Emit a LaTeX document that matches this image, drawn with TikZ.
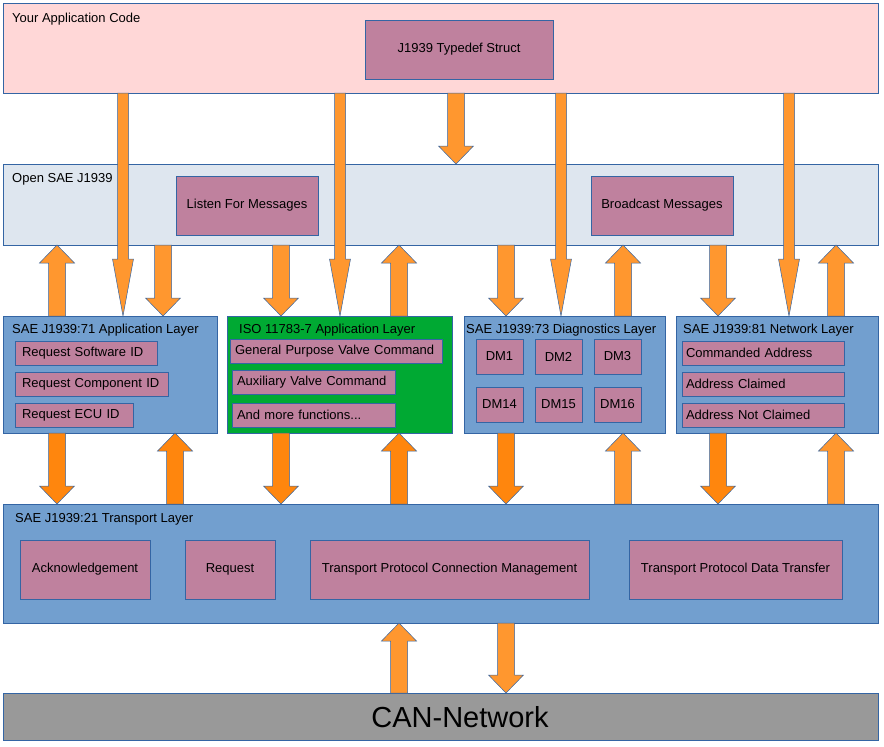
\documentclass[tikz,border=0pt]{standalone}
\usepackage{fontspec}
\setmainfont{Liberation Sans}
\usetikzlibrary{calc}
\definecolor{Edge}{HTML}{3465A4}
\definecolor{Blush}{HTML}{FFD7D7}
\definecolor{Mist}{HTML}{DEE6EF}
\definecolor{Steel}{HTML}{729FCF}
\definecolor{Leaf}{HTML}{00A933}
\definecolor{Mauve}{HTML}{BF819E}
\definecolor{Slate}{HTML}{999999}
\definecolor{Amber}{HTML}{FF972F}
\definecolor{Rust}{HTML}{FF860D}

% colour, x, tail anchor, tip anchor, half shaft, half head, head length
\newcommand{\blockarrow}[7]{%
  \draw[pipe,fill=#1] let \p1=(#2,0 |- #3), \p2=(#2,0 |- #4), \p3=($(\p2)!#7pt!(\p1)$) in
    (\x1-#5pt,\y1) -- (\x1-#5pt,\y3) -- (\x1-#6pt,\y3) -- (\x2,\y2)
    -- (\x1+#6pt,\y3) -- (\x1+#5pt,\y3) -- (\x1+#5pt,\y1) -- cycle;}

\begin{document}
\begin{tikzpicture}[x=1pt,y=-1pt,
  font=\fontsize{13}{15}\selectfont,
  layer/.style={draw=Edge,line width=0.8pt,anchor=north west,inner sep=0pt,outer sep=0pt},
  title/.style={anchor=west,inner sep=0pt},
  func/.style={draw=Edge,fill=Mauve,line width=0.8pt,anchor=north west,inner sep=0pt,outer sep=0pt,align=center},
  item/.style={func,minimum height=24pt,inner xsep=5pt,align=left},
  pipe/.style={draw=Edge,line width=0.5pt}]
  \useasboundingbox (0,0) rectangle (884,747);

  % layers
  \node[layer,fill=Blush,minimum width=875pt,minimum height=90pt] (app) at (3,3) {};
  \node[layer,fill=Mist,minimum width=875pt,minimum height=81pt] (open) at (3,164) {};
  \node[layer,fill=Steel,minimum width=214pt,minimum height=117pt] (j71) at (3,316) {};
  \node[layer,fill=Leaf,minimum width=225pt,minimum height=117pt] (iso) at (227,316) {};
  \node[layer,fill=Steel,minimum width=201pt,minimum height=117pt] (j73) at (464,316) {};
  \node[layer,fill=Steel,minimum width=202pt,minimum height=117pt] (net) at (676,316) {};
  \node[layer,fill=Steel,minimum width=875pt,minimum height=119pt] (tl) at (3,504) {};
  \node[layer,fill=Slate,minimum width=875pt,minimum height=47pt] (can) at (3,693) {};

  \node[title] (apptitle) at (12,19) {Your Application Code};
  \node[title] (opentitle) at (12,179) {Open SAE J1939};
  \node[title] (j71title) at (12,330) {SAE J1939:71 Application Layer};
  \node[title] (isotitle) at (239,330) {ISO 11783-7 Application Layer};
  \node[title] (j73title) at (466,330) {SAE J1939:73 Diagnostics Layer};
  \node[title] (nettitle) at (683,330) {SAE J1939:81 Network Layer};
  \node[title] (tltitle) at (15,519) {SAE J1939:21 Transport Layer};
  \node[inner sep=0pt,font=\fontsize{29}{32}\selectfont] (cantitle) at (460,717) {CAN-Network};

  % functions
  \node[func,minimum width=188pt,minimum height=59pt] (typedef) at (365,20) {J1939 Typedef Struct};
  \node[func,minimum width=142pt,minimum height=59pt] (listen) at (176,176) {Listen For Messages};
  \node[func,minimum width=142pt,minimum height=59pt] (broadcast) at (591,176) {Broadcast Messages};

  \node[item,inner xsep=7pt,text width=128pt] (swid) at (15,341) {Request Software ID};
  \node[item,inner xsep=7pt,text width=139pt] (compid) at (15,372) {Request Component ID};
  \node[item,inner xsep=7pt,text width=104pt] (ecuid) at (15,403) {Request ECU ID};

  \node[item,text width=202pt] (gpvc) at (230,339) {General Purpose Valve Command};
  \node[item,text width=153pt] (avc) at (232,370) {Auxiliary Valve Command};
  \node[item,text width=153pt] (more) at (232,403) {And more functions...};

  \foreach \dm/\px/\py in {1/476/339,2/535/339,3/594/339,14/476/387,15/535/387,16/594/387}
    \node[func,minimum width=47pt,minimum height=35pt] (dm\dm) at (\px,\py) {DM\dm};

  \node[item,inner xsep=4pt,text width=154pt] (cmdaddr) at (682,341) {Commanded Address};
  \node[item,inner xsep=4pt,text width=154pt] (claimed) at (682,372) {Address Claimed};
  \node[item,inner xsep=4pt,text width=154pt] (notclaimed) at (682,403) {Address Not Claimed};

  \node[func,minimum width=130pt,minimum height=59pt] (ack) at (20,540) {Acknowledgement};
  \node[func,minimum width=90pt,minimum height=59pt] (req) at (185,540) {Request};
  \node[func,minimum width=279pt,minimum height=59pt] (tpcm) at (310,540) {Transport Protocol Connection Management};
  \node[func,minimum width=213pt,minimum height=59pt] (tpdt) at (629,540) {Transport Protocol Data Transfer};

  % arrows
  \foreach \px/\dst in {123/j71,340/iso,561/j73,789/net}
    \blockarrow{Amber}{\px}{app.south}{\dst.north}{5.5}{10.5}{57};
  \blockarrow{Amber}{456}{app.south}{open.north}{8.5}{17.5}{18}
  \foreach \px/\src/\dst in {57/j71.north/open.south,163/open.south/j71.north,
      281/open.south/iso.north,399/iso.north/open.south,506/open.south/j73.north,
      623/j73.north/open.south,718/open.south/net.north,836/net.north/open.south,
      623/tl.north/j73.south,836/tl.north/net.south,
      399/can.north/tl.south,506/tl.south/can.north}
    \blockarrow{Amber}{\px}{\src}{\dst}{8.5}{17.5}{18};
  \foreach \px/\src/\dst in {57/j71.south/tl.north,175/tl.north/j71.south,
      281/iso.south/tl.north,399/tl.north/iso.south,506/j73.south/tl.north,
      718/net.south/tl.north}
    \blockarrow{Rust}{\px}{\src}{\dst}{8.5}{17.5}{18};
\end{tikzpicture}
\end{document}
